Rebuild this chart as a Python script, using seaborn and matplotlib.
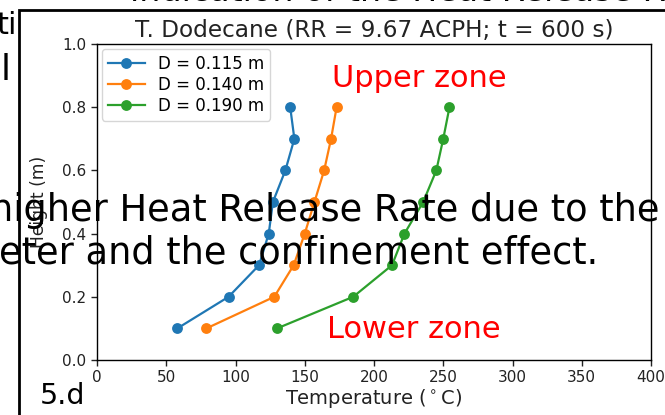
import matplotlib
matplotlib.use("Agg")
import matplotlib.pyplot as plt
import seaborn as sns
import pandas as pd
from matplotlib.patches import Rectangle

# ---- data ----
heights = [0.1, 0.2, 0.3, 0.4, 0.5, 0.6, 0.7, 0.8]
temp_d115 = [58, 95, 117, 124, 127, 136, 142.5, 139.5]
temp_d140 = [79, 128, 142, 150, 157, 164, 169, 173]
temp_d190 = [130, 185, 213, 222, 235.5, 245, 250, 254.5]
labels = ["D = 0.115 m", "D = 0.140 m", "D = 0.190 m"]
x_ticks = [0, 50, 100, 150, 200, 250, 300, 350, 400]
y_ticks = [0.0, 0.2, 0.4, 0.6, 0.8, 1.0]

rows = []
for lab, vals in zip(labels, [temp_d115, temp_d140, temp_d190]):
    for h, t in zip(heights, vals):
        rows.append({"Temperature": t, "Height": h, "D": lab})
df = pd.DataFrame(rows)

W, H = 665, 415
fig = plt.figure(figsize=(W / 100, H / 100), dpi=100)
fig.patch.set_facecolor("white")


def fx(px):
    return px / W


def fy(py):
    return 1 - py / H


ax = fig.add_axes([fx(97), fy(360), (651 - 97) / W, (360 - 44) / H])
ax.set_zorder(2)

sns.lineplot(data=df, x="Temperature", y="Height", hue="D", orient="y",
             palette=["#1f77b4", "#ff7f0e", "#2ca02c"], marker="o",
             markersize=7.8, markeredgewidth=0, linewidth=1.6, ax=ax)

ax.set_xlim(0, 400)
ax.set_ylim(0, 1.0)
ax.set_xticks(x_ticks)
ax.set_yticks(y_ticks)
ax.set_xticklabels([str(v) for v in x_ticks])
ax.set_yticklabels([f"{v:.1f}" for v in y_ticks])
ax.tick_params(labelsize=11, colors="#222222", length=4, width=1)
for s in ax.spines.values():
    s.set_linewidth(1.0)
ax.set_xlabel("Temperature ($^\\circ$C)", fontsize=14, color="#222222", labelpad=1)
ax.set_ylabel("Height (m)", fontsize=12.3, color="#222222", labelpad=10)
ax.set_title("T. Dodecane (RR = 9.67 ACPH; t = 600 s)", fontsize=16.7, color="#222222", pad=5)
ax.grid(False)
leg = ax.legend(loc="upper left", fontsize=12, frameon=True, handlelength=2.2,
                borderpad=0.35, labelspacing=0.18, borderaxespad=0.3)
leg.get_frame().set_edgecolor("#cccccc")

ax.text(170, 0.89, "Upper zone", color="red", fontsize=22, ha="left", va="center")
ax.text(166, 0.095, "Lower zone", color="red", fontsize=22, ha="left", va="center")

# ---- slide background (behind the figure image) ----
fig.text(fx(17), fy(34), "ti", fontsize=22, ha="right", va="baseline", zorder=0.5)
fig.text(fx(6), fy(80), "l", fontsize=26, ha="center", va="baseline", zorder=0.5)
fig.text(fx(130), fy(1), "indication of the Heat Release Rate D", fontsize=24,
         ha="left", va="baseline", zorder=0.5)

# white image area with black border
border = Rectangle((fx(19), -0.1), 1.2, fy(10) + 0.1, transform=fig.transFigure,
                   facecolor="white", edgecolor="black", linewidth=2, zorder=1)
fig.add_artist(border)

# ---- slide text overlaid on top ----
fig.text(fx(-10), fy(221), "higher Heat Release Rate due to the f", fontsize=26.5,
         ha="left", va="baseline", zorder=10)
fig.text(fx(-1), fy(263), "eter and the confinement effect.", fontsize=26.5,
         ha="left", va="baseline", zorder=10)
fig.text(fx(40), fy(404), "5.d", fontsize=20.5, ha="left", va="baseline", zorder=10)

fig.savefig("out.png", dpi=100)
